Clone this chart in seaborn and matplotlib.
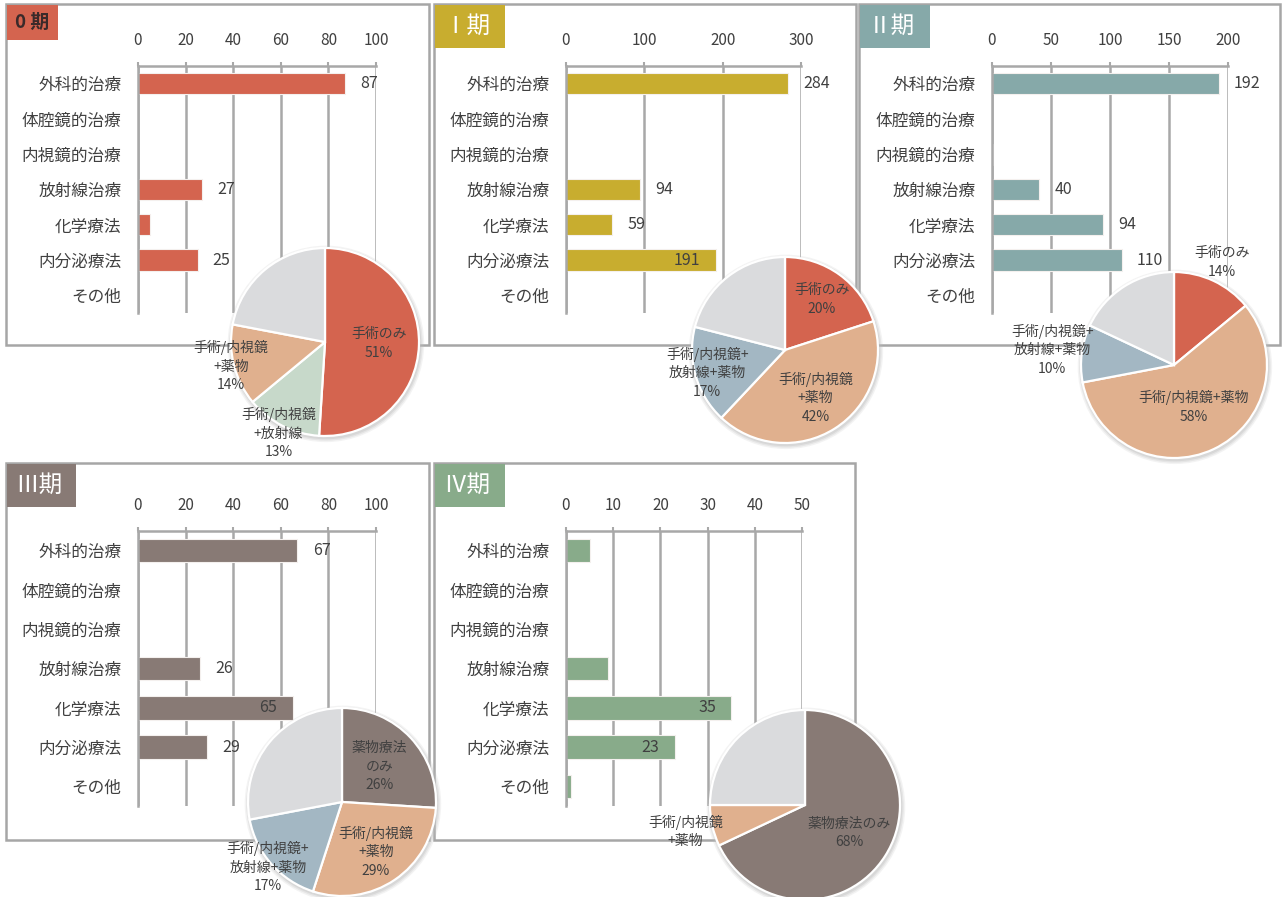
import numpy as np
import matplotlib
matplotlib.use('Agg')
import matplotlib.pyplot as plt
from matplotlib.patches import Rectangle, Circle
import seaborn as sns

sns.set_style('white')
plt.rcParams['font.family'] = ['Noto Sans CJK JP', 'DejaVu Sans']

# ---- data ----
categories = ['外科的治療', '体腔鏡的治療', '内視鏡的治療', '放射線治療', '化学療法', '内分泌療法', 'その他']

stage_titles = ['0 期', 'Ⅰ期', 'Ⅱ期', 'Ⅲ期', 'Ⅳ期']
stage0_counts = [87, 0, 0, 27, 5, 25, 0]
stage1_counts = [284, 0, 0, 94, 59, 191, 0]
stage2_counts = [192, 0, 1, 40, 94, 110, 0]
stage3_counts = [67, 0, 0, 26, 65, 29, 0]
stage4_counts = [5, 0, 0, 9, 35, 23, 1]

stage0_ticks = [0, 20, 40, 60, 80, 100]
stage1_ticks = [0, 100, 200, 300]
stage2_ticks = [0, 50, 100, 150, 200]
stage3_ticks = [0, 20, 40, 60, 80, 100]
stage4_ticks = [0, 10, 20, 30, 40, 50]

# where the value label sits: 'out' = after bar end, 'in' = inside bar end, '' = none
stage0_lblpos = ['out', '', '', 'out', '', 'out', '']
stage1_lblpos = ['out', '', '', 'out', 'out', 'in', '']
stage2_lblpos = ['out', '', '', 'out', 'out', 'out', '']
stage3_lblpos = ['out', '', '', 'out', 'in', 'out', '']
stage4_lblpos = ['', '', '', '', 'in', 'in', '']

pie0_names = ['手術のみ', '手術/内視鏡\n+放射線', '手術/内視鏡\n+薬物', '']
pie0_share = [51, 13, 14, 22]
pie1_names = ['手術のみ', '手術/内視鏡\n+薬物', '手術/内視鏡+\n放射線+薬物', '']
pie1_share = [20, 42, 17, 21]
pie2_names = ['手術のみ', '手術/内視鏡+薬物', '手術/内視鏡+\n放射線+薬物', '']
pie2_share = [14, 58, 10, 18]
pie3_names = ['薬物療法\nのみ', '手術/内視鏡\n+薬物', '手術/内視鏡+\n放射線+薬物', '']
pie3_share = [26, 29, 17, 28]
pie4_names = ['薬物療法のみ', '手術/内視鏡\n+薬物', '']
pie4_share = [68, 7, 25]
pie4_showpct = [True, False, False]

# ---- style ----
RED, PEACH, MINT, BLUE, GRAY, BROWN = '#d4644f', '#e0b08e', '#c7d9ca', '#a3b7c3', '#dadbdd', '#887a75'
bar_colors = ['#d4644f', '#c8ad2f', '#86a9a9', '#887a75', '#88ab8a']
title_colors = ['#3a2a2a', 'white', 'white', 'white', 'white']
grid_c = '#a8a8a8'
txt_c = '#404040'

W, H = 1282, 897
fig = plt.figure(figsize=(W / 100, H / 100), dpi=100)


def rect(x0, y0, x1, y1):
    return [x0 / W, 1 - y1 / H, (x1 - x0) / W, (y1 - y0) / H]


panels = [
    dict(box=(6, 4, 429, 345), badge=(7, 5, 58, 40), tsize=13.5, ax=(138, 66, 376, 313),
         counts=stage0_counts, ticks=stage0_ticks, pos=stage0_lblpos),
    dict(box=(434, 4, 856, 345), badge=(435, 5, 505, 48), tsize=17, ax=(566, 66, 801, 313),
         counts=stage1_counts, ticks=stage1_ticks, pos=stage1_lblpos),
    dict(box=(859, 4, 1280, 345), badge=(860, 5, 930, 48), tsize=17, ax=(992, 66, 1228, 313),
         counts=stage2_counts, ticks=stage2_ticks, pos=stage2_lblpos),
    dict(box=(6, 463, 429, 840), badge=(7, 464, 76, 507), tsize=17, ax=(138, 531, 376, 806),
         counts=stage3_counts, ticks=stage3_ticks, pos=stage3_lblpos),
    dict(box=(434, 463, 855, 840), badge=(435, 464, 505, 507), tsize=17, ax=(566, 531, 802, 806),
         counts=stage4_counts, ticks=stage4_ticks, pos=stage4_lblpos),
]

for k, p in enumerate(panels):
    x0, y0, x1, y1 = p['box']
    fig.add_artist(Rectangle((x0 / W, 1 - y1 / H), (x1 - x0) / W, (y1 - y0) / H,
                             transform=fig.transFigure, fill=False, ec='#a6a6a6', lw=1.8, zorder=-2))
    bx0, by0, bx1, by1 = p['badge']
    fig.add_artist(Rectangle((bx0 / W, 1 - by1 / H), (bx1 - bx0) / W, (by1 - by0) / H,
                             transform=fig.transFigure, fc=bar_colors[k], ec='none', zorder=-1))
    fig.text((bx0 + 8) / W, 1 - (by0 + by1) / 2 / H, stage_titles[k], color=title_colors[k],
             fontsize=p['tsize'], fontweight='bold' if k == 0 else 'normal', va='center', ha='left')

    ax = fig.add_axes(rect(*p['ax']))
    sns.barplot(x=p['counts'], y=categories, orient='h', color=bar_colors[k], width=0.6,
                saturation=1, edgecolor='#f4f0ee', linewidth=0.8, ax=ax)
    ax.set_xlim(0, p['ticks'][-1])
    ax.set_xticks(p['ticks'])
    ax.xaxis.tick_top()
    ax.set_axisbelow(True)
    ax.xaxis.grid(True, color=grid_c, lw=1.8)
    ax.yaxis.grid(False)
    for s in ['right', 'bottom']:
        ax.spines[s].set_visible(False)
    for s in ['top', 'left']:
        ax.spines[s].set_color(grid_c)
        ax.spines[s].set_linewidth(1.8)
    ax.set_yticks(np.arange(-0.5, len(categories), 1), minor=True)
    ax.tick_params(axis='y', which='major', length=0, pad=12, labelsize=12, labelcolor=txt_c)
    ax.tick_params(axis='y', which='minor', length=5, width=1.5, color=grid_c, direction='out')
    ax.tick_params(axis='x', which='major', length=3, width=1.5, color=grid_c, pad=9,
                   labelsize=11, labelcolor=txt_c)
    ax.set_xlabel('')
    ax.set_ylabel('')
    for i, (v, where) in enumerate(zip(p['counts'], p['pos'])):
        if where == 'out':
            ax.annotate(str(v), (v, i), xytext=(11, 0), textcoords='offset points',
                        ha='left', va='center', fontsize=11.5, color=txt_c)
        elif where == 'in':
            ax.annotate(str(v), (v, i), xytext=(-11, 0), textcoords='offset points',
                        ha='right', va='center', fontsize=11.5, color=txt_c)

pies = [
    dict(c=(325, 342), r=94, names=pie0_names, share=pie0_share, colors=[RED, MINT, PEACH, GRAY],
         dist=[0.57, 1.09, 1.03, 0], pct=[True, True, True, False]),
    dict(c=(785, 350), r=93, names=pie1_names, share=pie1_share, colors=[RED, PEACH, BLUE, GRAY],
         dist=[0.67, 0.61, 0.87, 0], pct=[True, True, True, False]),
    dict(c=(1174, 365), r=93, names=pie2_names, share=pie2_share, colors=[RED, PEACH, BLUE, GRAY],
         dist=[1.22, 0.5, 1.32, 0], pct=[True, True, True, False]),
    dict(c=(342, 802), r=94, names=pie3_names, share=pie3_share, colors=[BROWN, PEACH, BLUE, GRAY],
         dist=[0.55, 0.64, 1.05, 0], pct=[True, True, True, False]),
    dict(c=(805, 805), r=95, names=pie4_names, share=pie4_share, colors=[BROWN, PEACH, GRAY],
         dist=[0.55, 1.29, 0], pct=pie4_showpct),
]

for p in pies:
    cx, cy = p['c']
    r = p['r']
    pax = fig.add_axes(rect(cx - r, cy - r, cx + r, cy + r))
    # soft drop shadow behind the pie
    for rad, al in [(1.045, 0.18), (1.03, 0.25), (1.015, 0.35)]:
        pax.add_patch(Circle((0.01, -0.02), rad, color='#bdbdbd', alpha=al, lw=0,
                             zorder=0, clip_on=False))
    wedges, _ = pax.pie(p['share'], colors=p['colors'], startangle=90, counterclock=False,
                        radius=1, wedgeprops=dict(edgecolor='white', linewidth=1.6))
    for w, name, d, showp, v in zip(wedges, p['names'], p['dist'], p['pct'], p['share']):
        if not name:
            continue
        ang = np.deg2rad((w.theta1 + w.theta2) / 2)
        txt = name + (f'\n{v}%' if showp else '')
        pax.text(d * np.cos(ang), d * np.sin(ang), txt, ha='center', va='center',
                 fontsize=10, color=txt_c, linespacing=1.4)
    pax.set_xlim(-1, 1)
    pax.set_ylim(-1, 1)
    pax.set_aspect('equal')
    pax.axis('off')

fig.savefig('out.png', dpi=100)
